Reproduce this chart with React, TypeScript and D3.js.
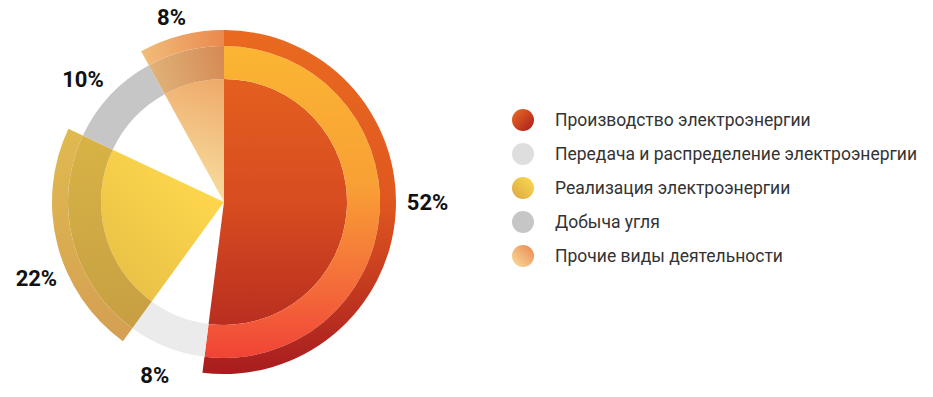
import React from "react";
import * as d3 from "d3";

const categories = [
  "Производство электроэнергии",
  "Передача и распределение электроэнергии",
  "Реализация электроэнергии",
  "Добыча угля",
  "Прочие виды деятельности",
];
const values = [52, 8, 22, 10, 8];
const labels = ["52%", "8%", "22%", "10%", "8%"];
// whether the segment is drawn as a full wedge (true) or only a ring (false)
const fullWedge = [true, false, true, false, true];

const W = 933;
const H = 397;
const CX = 224;
const CY = 202;
const R_IN = 123;
const R_MID = 156;
const R_OUT = 172;

type Stop = [number, string];
type Grad = { x1: number; y1: number; x2: number; y2: number; stops: Stop[] };

// style: per segment, per layer (inner pie, middle ring, outer ring)
const segStyles: (Grad | string | null)[][] = [
  [
    { x1: 0, y1: -172, x2: 0, y2: 172, stops: [[0, "#e8671f"], [0.5, "#d84c20"], [1, "#ad231f"]] },
    { x1: 0, y1: -172, x2: 0, y2: 172, stops: [[0, "#fbb832"], [0.45, "#f8a035"], [0.75, "#f46b3a"], [1, "#f03a34"]] },
    { x1: 0, y1: -172, x2: 0, y2: 172, stops: [[0, "#ea6a20"], [0.5, "#df571f"], [1, "#a81c1f"]] },
  ],
  [null, "#ebebeb", null],
  [
    { x1: -20, y1: -10, x2: -150, y2: 120, stops: [[0, "#fdd64c"], [1, "#dfb644"]] },
    { x1: -140, y1: -60, x2: -120, y2: 130, stops: [[0, "#d7b245"], [1, "#c79f43"]] },
    { x1: -150, y1: -70, x2: -110, y2: 140, stops: [[0, "#e0b950"], [1, "#d49f53"]] },
  ],
  [null, "#c6c6c6", null],
  [
    { x1: -50, y1: -20, x2: 0, y2: -150, stops: [[0, "#f7dc9e"], [1, "#ec9e5d"]] },
    { x1: -70, y1: -130, x2: 0, y2: -150, stops: [[0, "#dfb077"], [1, "#d68a55"]] },
    { x1: -80, y1: -150, x2: 0, y2: -170, stops: [[0, "#f1bb78"], [1, "#ea884d"]] },
  ],
];

const legendStyles: Grad[] = [
  { x1: 0, y1: 0, x2: 1, y2: 1, stops: [[0, "#ec6c20"], [1, "#a81c1f"]] },
  { x1: 0, y1: 0, x2: 1, y2: 1, stops: [[0, "#dedede"], [1, "#dedede"]] },
  { x1: 1, y1: 0, x2: 0, y2: 1, stops: [[0, "#fedb4e"], [1, "#d8a746"]] },
  { x1: 0, y1: 0, x2: 1, y2: 1, stops: [[0, "#c6c6c6"], [1, "#c6c6c6"]] },
  { x1: 1, y1: 0, x2: 0, y2: 1, stops: [[0, "#ec874c"], [1, "#f8dea0"]] },
];

// label nudges (px) for readability
const labelNudge: [number, number][] = [
  [1, -12],
  [0, -1],
  [9, 26],
  [-4, 6],
  [-2, 12],
];

export default function App() {
  const pie = d3
    .pie<number>()
    .sort(null)
    .value((d) => d)
    .startAngle(0)
    .endAngle(2 * Math.PI);
  const arcs = pie(values);
  const layers: [number, number][] = [
    [0, R_IN],
    [R_IN, R_MID],
    [R_MID, R_OUT],
  ];
  const arcGen = d3.arc<any>();

  const defs: React.ReactNode[] = [];
  const paths: React.ReactNode[] = [];
  arcs.forEach((a, i) => {
    layers.forEach(([ri, ro], j) => {
      const st = segStyles[i][j];
      if (!st) return;
      let fill: string;
      if (typeof st === "string") fill = st;
      else {
        const id = `g${i}_${j}`;
        defs.push(
          <linearGradient key={id} id={id} gradientUnits="userSpaceOnUse" x1={st.x1} y1={st.y1} x2={st.x2} y2={st.y2}>
            {st.stops.map(([o, c], k) => (
              <stop key={k} offset={o} stopColor={c} />
            ))}
          </linearGradient>
        );
        fill = `url(#${id})`;
      }
      const d = arcGen({ innerRadius: ri, outerRadius: ro, startAngle: a.startAngle, endAngle: a.endAngle }) as string;
      paths.push(<path key={`p${i}_${j}`} d={d} fill={fill} />);
    });
  });

  const labelEls = arcs.map((a, i) => {
    const mid = (a.startAngle + a.endAngle) / 2;
    const r = fullWedge[i] ? 203 : 188;
    const x = Math.sin(mid) * r + labelNudge[i][0];
    const y = -Math.cos(mid) * r + labelNudge[i][1];
    return (
      <text
        key={`l${i}`}
        x={x}
        y={y}
        dy="0.35em"
        textAnchor="middle"
        fontFamily="Roboto, sans-serif"
        fontWeight={700}
        fontSize={22}
        fill="#111"
      >
        {labels[i]}
      </text>
    );
  });

  const legendY = d3.scalePoint<string>().domain(categories).range([120, 256]);

  return (
    <svg width={W} height={H} style={{ position: "absolute", left: 0, top: 0, display: "block" }}>
      <defs>
        {defs}
        {legendStyles.map((g, i) => (
          <linearGradient key={`lg${i}`} id={`lg${i}`} x1={g.x1} y1={g.y1} x2={g.x2} y2={g.y2}>
            {g.stops.map(([o, c], k) => (
              <stop key={k} offset={o} stopColor={c} />
            ))}
          </linearGradient>
        ))}
      </defs>
      <rect width={W} height={H} fill="#fff" />
      <g transform={`translate(${CX},${CY})`}>
        {paths}
        {labelEls}
      </g>
      <g>
        {categories.map((c, i) => (
          <g key={c} transform={`translate(0,${legendY(c)})`}>
            <circle cx={523} cy={0} r={11} fill={`url(#lg${i})`} />
            <text x={555} y={0} dy="0.35em" fontFamily="Roboto, sans-serif" fontSize={17.5} fill="#333">
              {c}
            </text>
          </g>
        ))}
      </g>
    </svg>
  );
}
